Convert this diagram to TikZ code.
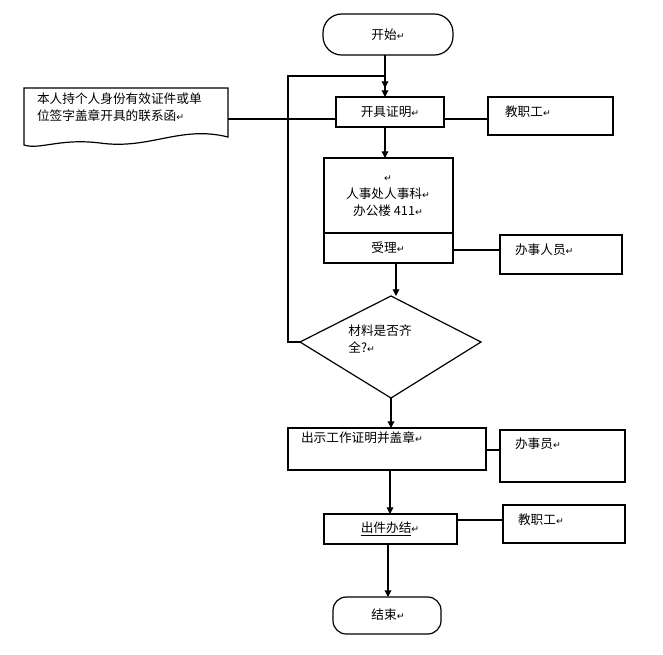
\documentclass[tikz,border=0pt]{standalone}
\usepackage{fontspec}
\setmainfont{Noto Sans CJK SC}
\newfontfamily\dejv{DejaVu Sans}
\newcommand{\rt}{{\dejv\fontsize{7}{9}\selectfont ↵}}
\usetikzlibrary{arrows.meta}
\begin{document}
\begin{tikzpicture}[x=0.75pt,y=-0.75pt,line width=0.9pt,
  every node/.style={font=\fontsize{9.5}{13}\selectfont},
  arr/.style={draw,-{Triangle[length=5pt,width=5pt]}}]
\useasboundingbox (0,0) rectangle (663,654);
% start
\draw[rounded corners=14pt] (323,14) rectangle (453,55);
\node (s) at (388,34.5) {开始\rt};
\coordinate (sb) at (385,55);
% 开具证明
\draw (336,97) rectangle (444,127);
\node (k) at (390,112) {开具证明\rt};
\coordinate (kt) at (385,97);
\coordinate (kb) at (385,127);
\coordinate (kl) at (336,119);
\coordinate (kr) at (444,119);
% document
\draw (24,88) -- (228,88) -- (228,137) .. controls (180,125) and (150,150) .. (100,143) .. controls (60,138) and (40,150) .. (24,145) -- cycle;
\node[align=left,anchor=west] (d) at (32,107) {本人持个人身份有效证件或单\\位签字盖章开具的联系函\rt};
\coordinate (dr) at (228,119);
\draw (dr) -- (kl);
% 教职工1
\draw (488,97) rectangle (613,135);
\node[anchor=west] (j1) at (500,112) {教职工\rt};
\draw (kr) -- (488,119);
\draw[arr] (sb) -- (kt);
% 人事处
\draw (324,158) rectangle (453,263);
\draw (324,233) -- (453,233);
\node[align=center] (r) at (388,196) {\rt\\人事处人事科\rt\\办公楼 411\rt};
\node (sl) at (388,248) {受理\rt};
\draw[arr] (kb) -- (385,158);
% 办事人员
\draw (500,235) rectangle (622,274);
\node[anchor=west] (b1) at (510,250) {办事人员\rt};
\draw (453,250) -- (500,250);
% diamond
\coordinate (dt) at (391,296);
\coordinate (dl) at (300,342);
\coordinate (drr) at (481,342);
\coordinate (db) at (391,398);
\draw (dt) -- (drr) -- (db) -- (dl) -- cycle;
\node[align=left] (q) at (380,339) {材料是否齐\\全?\rt};
\draw[arr] (396,263) -- (396,296);
% loop
\draw[arr] (dl) -- (288,342) -- (288,76) -- (385,76) -- (385,88);
% 出示
\draw (288,428) rectangle (486,470);
\node[anchor=west] (c) at (296,438) {出示工作证明并盖章\rt};
\draw[arr] (db) -- (391,428);
% 办事员
\draw (500,430) rectangle (625,482);
\node[anchor=west] (b2) at (510,444) {办事员\rt};
\draw (486,450) -- (500,450);
% 出件办结
\draw (324,514) rectangle (457,544);
\node (cj) at (390,529) {\underline{出件办结}\rt};
\draw[arr] (390,470) -- (390,514);
% 教职工2
\draw (503,505) rectangle (625,543);
\node[anchor=west] (j2) at (513,520) {教职工\rt};
\draw (457,520) -- (503,520);
% end
\draw[rounded corners=10pt] (333,597) rectangle (441,634);
\node (e) at (388,615) {结束\rt};
\draw[arr] (388,544) -- (388,597);
\end{tikzpicture}
\end{document}
